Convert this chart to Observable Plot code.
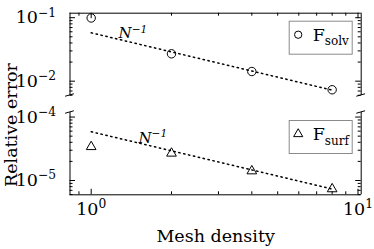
<!DOCTYPE html>
<html><head><meta charset="utf-8">
<script src="https://cdn.jsdelivr.net/npm/d3@7"></script>
<script src="https://cdn.jsdelivr.net/npm/@observablehq/plot@0.6"></script>
<style>
body{margin:0;background:#fff;}
#chart{position:relative;width:374px;height:249px;font-family:"DejaVu Serif",serif;color:#000;overflow:hidden;background:#fff;}
#chart svg{position:absolute;left:0;overflow:visible;display:block;}
#ylab{position:absolute;z-index:2;left:12px;top:125px;white-space:nowrap;font-size:17.5px;line-height:1;transform:translate(-50%,-50%) rotate(-90deg);}
</style></head><body><div id="chart"><div id="ylab">Relative error</div></div>
<script>
// ---- data ----
const meshDensity = [1, 2, 4, 8];
const solvError = [0.099, 0.027, 0.0142, 0.00733];
const surfError = [3.4e-5, 2.68e-5, 1.41e-5, 7.35e-6];
const refX = [1, 8];
const solvRef = [0.0578, 0.00723];
const surfRef = [5.87e-5, 7.34e-6];
const xDomain = [0.833, 10.28];
const solvDomain = [0.00595, 0.1177];
const surfDomain = [5.95e-6, 1.18e-4];
const xMajor = [1, 10];
const xMinor = [0.9, 2, 3, 4, 5, 6, 7, 8, 9];
const solvMajor = [0.01, 0.1];
const solvMinor = [0.006, 0.007, 0.008, 0.009, 0.02, 0.03, 0.04, 0.05, 0.06, 0.07, 0.08, 0.09];
const surfMajor = [1e-5, 1e-4];
const surfMinor = [6e-6, 7e-6, 8e-6, 9e-6, 2e-5, 3e-5, 4e-5, 5e-5, 6e-5, 7e-5, 8e-5, 9e-5];
const solvNote = {x: 1.266, y: 0.056, text: "N^−1"};
const surfNote = {x: 1.504, y: 4.64e-5, text: "N^−1"};
const solvLabel = "solv";
const surfLabel = "surf";
const xLabel = "Mesh density";

// ---- layout ----
const W = 374, ML = 69.5, MR = 13.3, FW = W - ML - MR, FH = 82.3;
const MAJ = 5.5, MIN = 3;
const FS = 17.5;

function supFmt(d) {
  const e = Math.round(Math.log10(d));
  return "10^" + String(e).replace("-", "−");
}

function breakMarks(edge) {
  return (index, scales, values, dims) => {
    const x0 = dims.marginLeft, x1 = dims.width - dims.marginRight;
    const fh = dims.height - dims.marginTop - dims.marginBottom;
    const y = edge === "bottom" ? dims.height - dims.marginBottom : dims.marginTop;
    const dx = 0.015 * (x1 - x0), dy = 0.015 * fh;
    const g = d3.create("svg:g").attr("stroke", "black").attr("stroke-width", 1);
    for (const x of [x0, x1]) {
      g.append("line").attr("x1", x - dx).attr("y1", y + dy).attr("x2", x + dx).attr("y2", y - dy);
    }
    return g.node();
  };
}

function legendMark(symbol, label) {
  return (index, scales, values, dims) => {
    const x1 = dims.width - dims.marginRight;
    const bw = 63, bh = 33;
    const bx = x1 - 9 - bw, by = dims.marginTop + 8;
    const g = d3.create("svg:g");
    g.append("rect").attr("x", bx + 0.5).attr("y", by + 0.5).attr("width", bw).attr("height", bh)
      .attr("fill", "white").attr("stroke", "#8a8a8a").attr("stroke-width", 1);
    g.append("path").attr("transform", `translate(${bx + 9.5},${by + 14})`)
      .attr("d", d3.symbol(symbol === "circle" ? d3.symbolCircle : d3.symbolTriangle, symbol === "circle" ? 42 : 36)())
      .attr("fill", "none").attr("stroke", "black");
    const t = g.append("text").attr("x", bx + 24).attr("y", by + 20).attr("text-anchor", "start")
      .attr("font-family", "DejaVu Serif").attr("font-size", FS).attr("fill", "black");
    t.append("tspan").text("F");
    t.append("tspan").attr("font-size", 12).attr("dy", 4.5).text(label);
    return g.node();
  };
}

function panel(o) {
  const rows = meshDensity.map((x, i) => ({x, y: o.values[i]}));
  const refRows = refX.map((x, i) => ({x, y: o.ref[i]}));
  const marks = [];
  marks.push(Plot.ruleX(xDomain, {x: d => d, stroke: "black"}));
  marks.push(Plot.ruleY([o.isTop ? o.yDomain[1] : o.yDomain[0]], {y: d => d, stroke: "black"}));
  for (const [vals, len] of [[o.major, MAJ], [o.minor, MIN]]) {
    marks.push(Plot.tickY(vals, {y: d => d, stroke: "black", insetRight: FW - len}));
    marks.push(Plot.tickY(vals, {y: d => d, stroke: "black", insetLeft: FW - len}));
  }
  for (const [vals, len] of [[xMajor, MAJ], [xMinor, MIN]]) {
    marks.push(Plot.tickX(vals, o.isTop ? {x: d => d, stroke: "black", insetBottom: FH - len} : {x: d => d, stroke: "black", insetTop: FH - len}));
  }
  marks.push(breakMarks(o.isTop ? "bottom" : "top"));
  marks.push(Plot.line(refRows, {x: "x", y: "y", stroke: "black", strokeDasharray: "1.4,3.6", strokeWidth: 1.5}));
  marks.push(Plot.dot(rows, {x: "x", y: "y", symbol: o.symbol, r: o.r, stroke: "black", fill: "none", strokeWidth: 1}));
  marks.push(Plot.text([o.note], {x: "x", y: "y", text: "text", textAnchor: "start", fontStyle: "italic", fontSize: 15, fill: "black"}));
  marks.push(Plot.axisY({ticks: o.major, tickSize: 0, tickPadding: 14, tickFormat: supFmt, fontSize: FS, label: null}));
  if (!o.isTop) {
    marks.push(Plot.axisX({ticks: xMajor, tickSize: 0, tickPadding: 8, tickFormat: supFmt, fontSize: FS, label: null}));
    marks.push(Plot.text([xLabel], {text: d => d, frameAnchor: "bottom", dy: 47, fontSize: FS, fill: "black"}));
  }
  marks.push(legendMark(o.symbol, o.label));
  return Plot.plot({
    width: W, height: o.height,
    marginLeft: ML, marginRight: MR, marginTop: o.mt, marginBottom: o.mb,
    style: {fontFamily: "DejaVu Serif", fontSize: FS + "px", color: "black", background: "transparent", overflow: "visible"},
    x: {type: "log", domain: xDomain, axis: o.isTop ? null : undefined},
    y: {type: "log", domain: o.yDomain},
    marks
  });
}

function supify(root) {
  root.querySelectorAll("text").forEach(t => {
    if (t.children.length) return;
    const s = t.textContent;
    const k = s.indexOf("^");
    if (k < 0) return;
    t.textContent = s.slice(0, k);
    const ts = document.createElementNS("http://www.w3.org/2000/svg", "tspan");
    ts.setAttribute("font-size", "0.7em");
    ts.setAttribute("dy", "-0.55em");
    ts.textContent = s.slice(k + 1);
    t.appendChild(ts);
  });
}

const chartEl = document.getElementById("chart");
const topPanel = panel({isTop: true, values: solvError, ref: solvRef, yDomain: solvDomain, major: solvMajor, minor: solvMinor,
  symbol: "circle", r: 4.2, note: solvNote, label: solvLabel, height: 100, mt: 12.7, mb: 5});
const botPanel = panel({isTop: false, values: surfError, ref: surfRef, yDomain: surfDomain, major: surfMajor, minor: surfMinor,
  symbol: "triangle", r: 3.6, note: surfNote, label: surfLabel, height: 149, mt: 12, mb: 54.7});
topPanel.style.top = "0px";
botPanel.style.top = "100px";
chartEl.appendChild(topPanel);
chartEl.appendChild(botPanel);
supify(chartEl);
</script></body></html>
